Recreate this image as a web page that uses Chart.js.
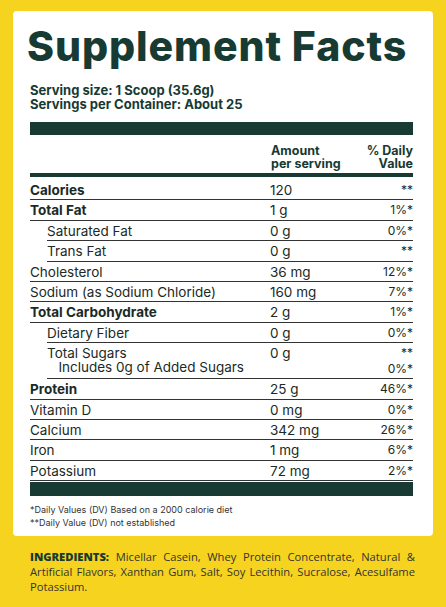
<!DOCTYPE html>
<html><head><meta charset="utf-8">
<script src="https://cdn.jsdelivr.net/npm/chart.js@4/dist/chart.umd.min.js"></script>
<style>
body{margin:0;width:446px;height:607px;background:#f6d31f;font-family:Inter,"Open Sans",sans-serif;color:#1a2a26;position:relative;overflow:hidden}
#panel{position:absolute;left:13px;top:11px;width:420px;height:525px;background:#fff;border-radius:4px}
#title{position:absolute;left:27px;top:21px;font-size:41px;font-weight:800;color:#173a33;letter-spacing:0.9px;white-space:nowrap}
.srv{position:absolute;left:30px;font-size:13px;font-weight:700;color:#173a33}
.bar{position:absolute;left:30px;width:383px;background:#173a33}
.row{position:absolute;left:30px;width:383px;font-size:13.5px;border-bottom:1px solid #333}
.row span{position:absolute}
.hdr{position:absolute;font-size:12.5px;font-weight:700;line-height:13px;color:#173a33}
#foot{position:absolute;left:30px;top:503px;font-size:9px;line-height:13px;color:#333}
#ing{position:absolute;left:30px;top:549px;width:385px;font-family:"Open Sans",sans-serif;font-size:11.2px;line-height:15px;color:#333;text-align:justify}
#c{position:absolute;left:0;top:0;pointer-events:none}
</style></head><body>
<div id="panel"></div>
<div id="title">Supplement Facts</div>
<div class="srv" style="top:82px">Serving size: 1 Scoop (35.6g)</div>
<div class="srv" style="top:96px">Servings per Container: About 25</div>
<div class="bar" style="top:122px;height:13px"></div>
<div class="hdr" style="left:271px;top:144px">Amount<br>per serving</div>
<div class="hdr" style="left:350px;top:144px;width:63px;text-align:right">% Daily<br>Value</div>
<div class="bar" style="top:173px;height:4px"></div>
<div id="rows"></div>
<div class="bar" style="top:482px;height:14px"></div>
<div id="foot">*Daily Values (DV) Based on a 2000 calorie diet<br>**Daily Value (DV) not established</div>
<div id="ing"><b style="color:#173a33;font-weight:800">INGREDIENTS:</b> Micellar Casein, Whey Protein Concentrate, Natural &amp; Artificial Flavors, Xanthan Gum, Salt, Soy Lecithin, Sucralose, Acesulfame Potassium.</div>
<canvas id="c" width="446" height="607"></canvas>
<script>
const nutrients=["Calories","Total Fat","Saturated Fat","Trans Fat","Cholesterol","Sodium (as Sodium Chloride)","Total Carbohydrate","Dietary Fiber","Total Sugars","Protein","Vitamin D","Calcium","Iron","Potassium"];
const amounts=["120","1 g","0 g","0 g","36 mg","160 mg","2 g","0 g","0 g","25 g","0 mg","342 mg","1 mg","72 mg"];
const dailyValues=["**","1%*","0%*","**","12%*","7%*","1%*","0%*","**","46%*","0%*","26%*","6%*","2%*"];
const bold=[1,1,0,0,0,0,1,0,0,1,0,0,0,0];
const indent=[0,0,1,1,0,0,0,1,1,0,0,0,0,0];
const box=document.getElementById('rows');
let y=180;
nutrients.forEach((n,i)=>{
  const h=(i===8)?36:20.4;
  const d=document.createElement('div');d.className='row';
  const ind=indent[i]?17:0;
  d.style.top=y+'px';d.style.height=(h-1)+'px';d.style.left=(30+ind)+'px';d.style.width=(383-ind)+'px';
  const fw=bold[i]?'700':'400';
  let html=`<span style="left:0;top:2px;font-weight:${fw}">${n}</span>`+
    `<span style="left:${240-ind}px;top:2px">${amounts[i]}</span>`+
    `<span style="right:0;top:2px;font-size:12px">${dailyValues[i]}</span>`;
  if(i===8){html+=`<span style="left:0;top:16px">&nbsp;&nbsp;&nbsp;Includes 0g of Added Sugars</span><span style="right:0;top:18px;font-size:12px">0%*</span>`;}
  d.innerHTML=html;box.appendChild(d);y+=h;
});
new Chart(document.getElementById('c'),{type:'bar',data:{labels:[],datasets:[]},options:{responsive:false,animation:false,plugins:{legend:{display:false}},scales:{x:{display:false},y:{display:false}}}});
</script>
</body></html>
